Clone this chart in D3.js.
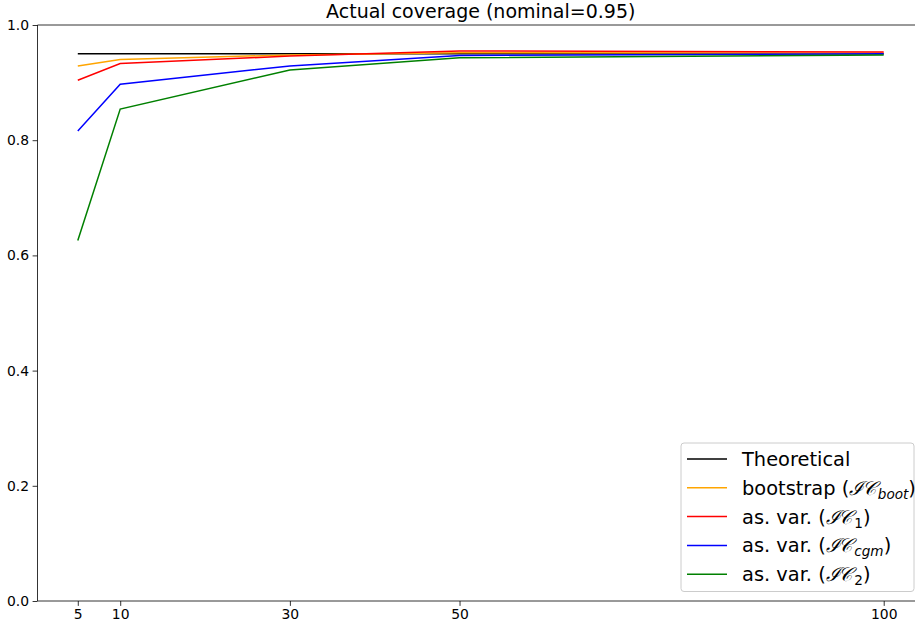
<!DOCTYPE html>
<html>
<head>
<meta charset="utf-8">
<script src="https://cdn.jsdelivr.net/npm/d3@7"></script>
<style>
  body { margin: 0; background: #fff; }
  svg { font-family: "DejaVu Sans", sans-serif; }
</style>
</head>
<body>
<svg width="915" height="628"></svg>
<script>
const width = 915;
const height = 628;

// sample sizes
const sizes = [5, 10, 30, 50, 100];
const xTicks = [5, 10, 30, 50, 100];
const yTicks = [0.0, 0.2, 0.4, 0.6, 0.8, 1.0];

const theoretical = [0.95, 0.95, 0.95, 0.95, 0.95];
const bootstrap = [0.929, 0.940, 0.948, 0.952, 0.951];
const asVar1 = [0.904, 0.933, 0.946, 0.955, 0.953];
const asVarCgm = [0.816, 0.897, 0.929, 0.947, 0.950];
const asVar2 = [0.626, 0.854, 0.922, 0.943, 0.948];

const series = [
    { name: "Theoretical", values: theoretical, color: "black" },
    { name: "bootstrap", sub: "boot", subItalic: true, values: bootstrap, color: "orange" },
    { name: "as. var.", sub: "1", subItalic: false, values: asVar1, color: "red" },
    { name: "as. var.", sub: "cgm", subItalic: true, values: asVarCgm, color: "blue" },
    { name: "as. var.", sub: "2", subItalic: false, values: asVar2, color: "green" }
];

const margin = { left: 37.5, top: 25, bottom: 601, right: 924 };

const svg = d3.select("svg");

const x = d3.scaleLinear()
    .domain([0.25, 104.75])
    .range([margin.left, margin.right]);

const y = d3.scaleLinear()
    .domain([0, 1])
    .range([margin.bottom, margin.top]);

// axes
const xAxis = svg.append("g")
    .attr("transform", `translate(0,${margin.bottom})`)
    .call(d3.axisBottom(x).tickValues(xTicks).tickFormat(d3.format("d")).tickSize(4.9).tickPadding(3.5));

const yAxis = svg.append("g")
    .attr("transform", `translate(${margin.left},0)`)
    .call(d3.axisLeft(y).tickValues(yTicks).tickFormat(d3.format(".1f")).tickSize(4.9).tickPadding(3.5));

[xAxis, yAxis].forEach(g => {
    g.select(".domain").remove();
    g.selectAll(".tick line").attr("stroke", "black").attr("stroke-width", 0.8);
    g.selectAll(".tick text").attr("font-size", 13.9).attr("fill", "black")
        .attr("font-family", "DejaVu Sans");
});

// spines (left, top, bottom; right one is off the page)
svg.append("line")
    .attr("x1", margin.left).attr("x2", margin.left)
    .attr("y1", margin.top).attr("y2", margin.bottom)
    .attr("stroke", "black").attr("stroke-width", 0.8);
svg.append("line")
    .attr("x1", margin.left).attr("x2", margin.right)
    .attr("y1", margin.top).attr("y2", margin.top)
    .attr("stroke", "black").attr("stroke-width", 0.8);
svg.append("line")
    .attr("x1", margin.left).attr("x2", margin.right)
    .attr("y1", margin.bottom).attr("y2", margin.bottom)
    .attr("stroke", "black").attr("stroke-width", 0.8);

const line = d3.line()
    .x((d, i) => x(sizes[i]))
    .y(d => y(d));

svg.selectAll(".series")
    .data(series)
    .join("path")
    .attr("class", "series")
    .attr("d", d => line(d.values))
    .attr("fill", "none")
    .attr("stroke", d => d.color)
    .attr("stroke-width", 1.5);

// title
svg.append("text")
    .attr("x", (margin.left + margin.right) / 2)
    .attr("y", 18)
    .attr("text-anchor", "middle")
    .attr("font-size", 19)
    .text("Actual coverage (nominal=0.95)");

// legend
const legend = svg.append("g");
legend.append("rect")
    .attr("x", 681).attr("y", 443)
    .attr("width", 233).attr("height", 148.5)
    .attr("rx", 3)
    .attr("fill", "white").attr("fill-opacity", 0.8)
    .attr("stroke", "#cccccc").attr("stroke-width", 1);

series.forEach((s, i) => {
    const ly = 459 + i * 28.8;
    legend.append("line")
        .attr("x1", 687).attr("x2", 727)
        .attr("y1", ly).attr("y2", ly)
        .attr("stroke", s.color).attr("stroke-width", 1.5);
    const t = legend.append("text")
        .attr("x", 742).attr("y", ly + 7)
        .attr("font-size", 19.4);
    if (!s.sub) {
        t.text(s.name);
    } else {
        t.append("tspan").text(s.name + " (");
        t.append("tspan").attr("font-family", "DejaVu Serif").attr("font-style", "italic")
            .attr("letter-spacing", -1.5).text("\u2110");
        t.append("tspan").attr("font-family", "DejaVu Serif").attr("font-style", "italic")
            .text("\uD835\uDC9E");
        t.append("tspan").attr("font-size", 13.6).attr("dy", 4).attr("dx", 2)
            .attr("font-style", s.subItalic ? "italic" : "normal").text(s.sub);
        t.append("tspan").attr("dy", -4).text(")");
    }
});
</script>
</body>
</html>
